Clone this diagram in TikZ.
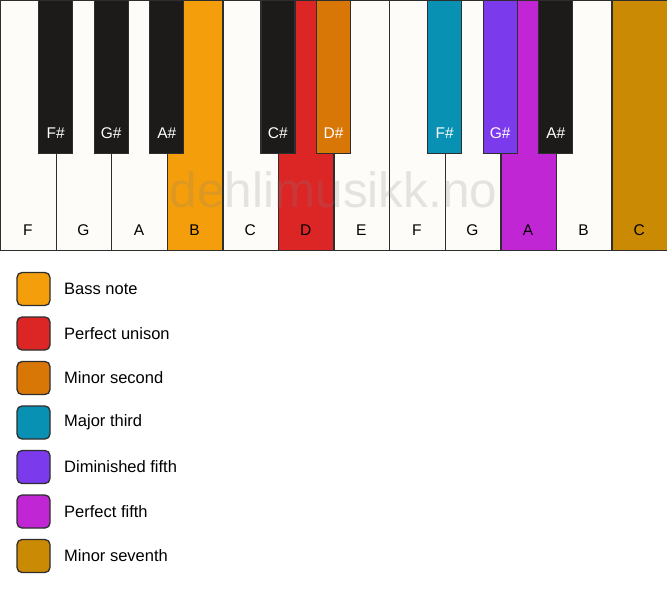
\documentclass[tikz,border=0pt]{standalone}
\usepackage{fontspec}
\setmainfont{Liberation Sans}
\definecolor{keywhite}{HTML}{FDFCF8}
\definecolor{keyblack}{HTML}{1C1B1A}
\definecolor{keyline}{HTML}{2E2E2E}
\definecolor{bassnote}{HTML}{F59E0B}
\definecolor{unison}{HTML}{DC2626}
\definecolor{minsecond}{HTML}{D97706}
\definecolor{majthird}{HTML}{0891B2}
\definecolor{dimfifth}{HTML}{7C3AED}
\definecolor{perffifth}{HTML}{C026D3}
\definecolor{minseventh}{HTML}{CA8A04}
\begin{document}
\begin{tikzpicture}[x=1pt,y=-1pt,
  whitekey/.style={draw=keyline,line width=1.3pt,anchor=north west,inner sep=0pt,minimum width=55.58pt,minimum height=249.5pt},
  blackkey/.style={draw=keyline,line width=1.3pt,anchor=north,inner sep=0pt,minimum width=34pt,minimum height=153pt},
  wlabel/.style={font=\fontsize{15.5}{17}\selectfont,text=black,inner sep=0pt},
  blabel/.style={font=\fontsize{15.5}{17}\selectfont,text=white,inner sep=0pt},
  swatch/.style={draw=keyline,line width=1.3pt,rounded corners=5pt,minimum size=33pt,inner sep=0pt},
  legendtext/.style={font=\fontsize{16.5}{18}\selectfont,anchor=west,inner sep=0pt},
  watermark/.style={font=\fontsize{49.5}{52}\selectfont,text=gray,opacity=0.2,anchor=base,inner sep=0pt}
]
\useasboundingbox (0,0) rectangle (667,594);
\fill[white] (0,0) rectangle (667,594);
\foreach \i/\n/\c in {0/F/keywhite,1/G/keywhite,2/A/keywhite,3/B/bassnote,4/C/keywhite,5/D/unison,6/E/keywhite,7/F/keywhite,8/G/keywhite,9/A/perffifth,10/B/keywhite,11/C/minseventh}{
  \node[whitekey,fill=\c] (w\i) at ({\i*55.58},0) {};
  \node[wlabel] (wl\i) at ({\i*55.58+27.79},230) {\n};
}
\node[watermark] (wm) at (333.5,207) {dehlimusikk.no};
\foreach \b/\n/\c in {1/F\#/keyblack,2/G\#/keyblack,3/A\#/keyblack,5/C\#/keyblack,6/D\#/minsecond,8/F\#/majthird,9/G\#/dimfifth,10/A\#/keyblack}{
  \node[blackkey,fill=\c] (b\b) at ({\b*55.58},0) {};
  \node[blabel] (bl\b) at ({\b*55.58},133) {\n};
}
\foreach \k/\c/\t in {0/bassnote/Bass note,1/unison/Perfect unison,2/minsecond/Minor second,3/majthird/Major third,4/dimfifth/Diminished fifth,5/perffifth/Perfect fifth,6/minseventh/Minor seventh}{
  \node[swatch,fill=\c] (s\k) at (33.5,{289+44.5*\k}) {};
  \node[legendtext] (t\k) at (64,{289+44.5*\k}) {\t};
}
\end{tikzpicture}
\end{document}
